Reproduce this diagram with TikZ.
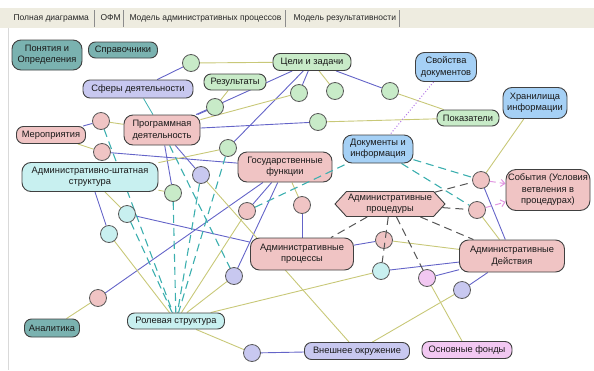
\documentclass[tikz,border=0pt]{standalone}
\usepackage{fontspec}
\setmainfont{Liberation Sans}
\usetikzlibrary{shapes.symbols,backgrounds,arrows.meta}

\definecolor{tealdk}{RGB}{122,178,176}
\definecolor{teallt}{RGB}{200,240,240}
\definecolor{lav}{RGB}{200,200,240}
\definecolor{grn}{RGB}{200,235,200}
\definecolor{pnk}{RGB}{240,196,196}
\definecolor{blu}{RGB}{165,208,245}
\definecolor{orc}{RGB}{242,200,242}
\definecolor{lpur}{RGB}{100,100,200}
\definecolor{lolv}{RGB}{200,200,120}
\definecolor{ltea}{RGB}{60,175,175}
\definecolor{ldrk}{RGB}{85,85,85}
\definecolor{lpnk}{RGB}{225,150,225}
\definecolor{tabbar}{RGB}{238,236,224}

\tikzset{
  box/.style={draw=black!75, line width=0.9pt, rounded corners=7pt, align=center,
    inner sep=1pt, font=\fontsize{9.3}{11.5}\selectfont, text=black!90},
  circ/.style={draw=black!65, line width=0.8pt, circle, minimum size=17pt, inner sep=0pt},
  pu/.style={draw=lpur, line width=0.9pt},
  ol/.style={draw=lolv, line width=0.9pt},
  tl/.style={draw=ltea, line width=0.8pt},
  td/.style={draw=ltea, line width=1.1pt, dash pattern=on 8pt off 5pt},
  dd/.style={draw=ldrk, line width=1pt, dash pattern=on 8pt off 5pt},
  pd/.style={draw=lpnk, line width=1pt, dash pattern=on 6pt off 4pt,
    -{Straight Barb[length=4pt,width=7pt]}},
  dt/.style={draw=lpnk!80!blue, line width=1pt, dotted},
  tabtxt/.style={anchor=west, font=\fontsize{8.5}{10}\selectfont, text=black!85}
}

\begin{document}
\begin{tikzpicture}[x=1pt, y=-1pt]
\useasboundingbox (0,0) rectangle (594,370);

% tabs
\fill[tabbar] (0,8) rectangle (594,28);
\node[tabtxt] (tab1) at (10,18) {Полная диаграмма};
\node[tabtxt] (tab2) at (97,18) {ОФМ};
\node[tabtxt] (tab3) at (126,18) {Модель административных процессов};
\node[tabtxt] (tab4) at (290,18) {Модель результативности};
\foreach \x in {94,123,285,399}
  \draw[black!45] (\x,10) -- (\x,27);
\draw[black!15] (8,28) -- (8,370);

% boxes
\node[box, fill=tealdk, minimum width=70pt, minimum height=30pt, rounded corners=9pt] (pon) at (47,55) {Понятия и\\Определения};
\node[box, fill=tealdk, minimum width=69pt, minimum height=16pt] (spr) at (123,50) {Справочники};
\node[box, fill=grn, minimum width=78pt, minimum height=17pt] (cel) at (312,62) {Цели и задачи};
\node[box, fill=lav, minimum width=110pt, minimum height=18pt] (sfe) at (138,89) {Сферы деятельности};
\node[box, fill=grn, minimum width=62pt, minimum height=16pt] (res) at (235,82) {Результаты};
\node[box, fill=blu, minimum width=61pt, minimum height=29pt, rounded corners=9pt] (svo) at (446,67) {Свойства\\документов};
\node[box, fill=blu, minimum width=64pt, minimum height=31pt, rounded corners=9pt] (hra) at (535,103) {Хранилища\\информации};
\node[box, fill=grn, minimum width=62pt, minimum height=16pt] (pok) at (468,118) {Показатели};
\node[box, fill=pnk, minimum width=76pt, minimum height=30pt, rounded corners=9pt] (prg) at (162,130) {Программная\\деятельность};
\node[box, fill=pnk, minimum width=69pt, minimum height=17pt] (mer) at (51,135) {Мероприятия};
\node[box, fill=blu, minimum width=70pt, minimum height=28pt, rounded corners=9pt] (doc) at (378,149) {Документы и\\информация};
\node[box, fill=pnk, minimum width=94pt, minimum height=30pt, rounded corners=9pt] (gos) at (285,167) {Государственные\\функции};
\node[box, fill=teallt, minimum width=136pt, minimum height=29pt, rounded corners=9pt] (ash) at (90,177) {Административно-штатная\\структура};
\node[box, fill=pnk, minimum width=84pt, minimum height=41pt, rounded corners=10pt] (sob) at (548,190) {События (Условия\\ветвления в\\процедурах)};
\node[box, fill=pnk, shape=signal, signal to=west and east, signal pointer angle=95,
  minimum width=110pt, minimum height=25pt, rounded corners=0pt] (prd) at (390,204) {Административные\\процедуры};
\node[box, fill=pnk, minimum width=103pt, minimum height=32pt, rounded corners=9pt] (prc) at (302,254) {Административные\\процессы};
\node[box, fill=pnk, minimum width=105pt, minimum height=32pt, rounded corners=9pt] (dei) at (512,256) {Административные\\Действия};
\node[box, fill=lav, minimum width=105pt, minimum height=17pt] (vne) at (357,351) {Внешнее окружение};
\node[box, fill=orc, minimum width=90pt, minimum height=17pt] (osn) at (467,350) {Основные фонды};
\node[box, fill=tealdk, minimum width=55pt, minimum height=18pt] (ana) at (52,328) {Аналитика};
\node[box, fill=teallt, minimum width=97pt, minimum height=16pt] (rol) at (176,321) {Ролевая структура};

% circles
\node[circ, fill=grn] (g1) at (191,63) {};
\node[circ, fill=grn] (g2) at (215,107) {};
\node[circ, fill=grn] (g3) at (299,93) {};
\node[circ, fill=grn] (g4) at (335,91) {};
\node[circ, fill=grn] (g5) at (390,91) {};
\node[circ, fill=grn] (g6) at (318,122) {};
\node[circ, fill=grn] (g7) at (228,148) {};
\node[circ, fill=grn] (g8) at (173,193) {};
\node[circ, fill=pnk] (p1) at (101,121) {};
\node[circ, fill=pnk] (p2) at (102,152) {};
\node[circ, fill=pnk] (p3) at (247,211) {};
\node[circ, fill=pnk] (p4) at (302,205) {};
\node[circ, fill=pnk] (p5) at (481,180) {};
\node[circ, fill=pnk] (p6) at (477,210) {};
\node[circ, fill=pnk] (p7) at (384,240) {};
\node[circ, fill=pnk] (p8) at (98,298) {};
\node[circ, fill=lav] (l1) at (201,175) {};
\node[circ, fill=lav] (l2) at (462,290) {};
\node[circ, fill=lav] (l3) at (234,276) {};
\node[circ, fill=lav] (l4) at (252,353) {};
\node[circ, fill=teallt] (t1) at (127,214) {};
\node[circ, fill=teallt] (t2) at (109,234) {};
\node[circ, fill=teallt] (t3) at (381,271) {};
\node[circ, fill=orc] (o1) at (427,278) {};

\begin{pgfonlayer}{background}
% purple links
\draw[pu] (g1) -- (sfe);
\draw[pu] (g2) -- (prg);
\draw[pu] (prg) -- (cel);
\draw[pu] (cel) -- (g7);
\draw[pu] (cel) -- (g3);
\draw[pu] (cel) -- (g5);
\draw[pu] (prg) -- (g6);
\draw[pu] (p1) -- (mer);
\draw[pu] (p2) -- (gos);
\draw[pu] (prg) -- (l1);
\draw[pu] (prg) -- (g8);
\draw[pu] (ash) -- (t2);
\draw[pu] (t1) -- (prc);
\draw[pu] (gos) -- (p8);
\draw[pu] (gos) -- (l3);
\draw[pu] (gos) -- (p3);
\draw[pu] (p4) -- (prc);
\draw[pu] (p7) -- (prc);
\draw[pu] (t3) -- (dei);
\draw[pu] (o1) -- (dei);
\draw[pu] (l2) -- (dei);
\draw[pu] (p5) -- (dei);
\draw[pu] (l4) -- (vne);
% olive links
\draw[ol] (g1) -- (cel);
\draw[ol] (g2) -- (res);
\draw[ol] (g3) -- (prg);
\draw[ol] (g4) -- (cel);
\draw[ol] (g5) -- (pok);
\draw[ol] (g6) -- (pok);
\draw[ol] (p1) -- (prg);
\draw[ol] (mer) -- (p2);
\draw[ol] (g7) -- (ash);
\draw[ol] (ash) -- (g8);
\draw[ol] (ash) -- (t1);
\draw[ol] (t2) -- (rol);
\draw[ol] (l1) -- (vne);
\draw[ol] (p3) -- (rol);
\draw[ol] (l3) -- (rol);
\draw[ol] (p8) -- (ana);
\draw[ol] (rol) -- (l4);
\draw[ol] (rol) -- (t3);
\draw[ol] (gos) -- (p4);
\draw[ol] (p7) -- (dei);
\draw[ol] (p5) -- (hra);
\draw[ol] (p6) -- (dei);
\draw[ol] (o1) -- (osn);
\draw[ol] (l2) -- (vne);
% teal links
\draw[tl] (sfe) -- (prg);
\draw[td] (t1) -- (rol);
\draw[td] (g8) -- (rol);
\draw[td] (g7) -- (rol);
\draw[td] (l1) -- (rol);
\draw[td] (p1) -- (rol);
\draw[td] (prg) -- (l3);
\draw[td] (doc) -- (p5);
\draw[td] (doc) -- (p6);
% procedures
\draw[dd] (prd) -- (p5);
\draw[dd] (prd) -- (p6);
\draw[dd] (prd) -- (prc);
\draw[dd] (prd) -- (dei);
\draw[dd] (prd) -- (o1);
\draw[pd] (p5) -- (sob);
\draw[pd] (p6) -- (sob);
\draw[dt] (svo) -- (doc);
\end{pgfonlayer}

% drawn over the nodes
\draw[td] (p3) -- (doc);
\draw[dd] (prd) -- (t3);

\end{tikzpicture}
\end{document}
